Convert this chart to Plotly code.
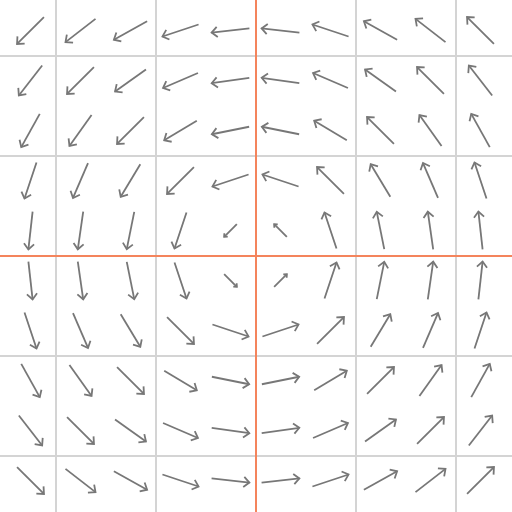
import math
import plotly.graph_objects as go

# grid of arrow centres (data units)
xs = [-2.25, -1.75, -1.25, -0.75, -0.25, 0.25, 0.75, 1.25, 1.75, 2.25]
ys = [2.25, 1.75, 1.25, 0.75, 0.25, -0.25, -0.75, -1.25, -1.75, -2.25]

# horizontal components, one row per y (top to bottom)
u = [
    [-0.269, -0.300, -0.332, -0.361, -0.378, -0.378, -0.361, -0.332, -0.300, -0.269],
    [-0.233, -0.269, -0.309, -0.349, -0.376, -0.376, -0.349, -0.309, -0.269, -0.233],
    [-0.185, -0.221, -0.269, -0.326, -0.373, -0.373, -0.326, -0.269, -0.221, -0.185],
    [-0.120, -0.150, -0.196, -0.269, -0.361, -0.361, -0.269, -0.196, -0.150, -0.120],
    [-0.042, -0.054, -0.075, -0.120, -0.127, -0.127, -0.120, -0.075, -0.054, -0.042],
    [0.042, 0.054, 0.075, 0.120, 0.127, 0.127, 0.120, 0.075, 0.054, 0.042],
    [0.120, 0.150, 0.196, 0.269, 0.361, 0.361, 0.269, 0.196, 0.150, 0.120],
    [0.185, 0.221, 0.269, 0.326, 0.373, 0.373, 0.326, 0.269, 0.221, 0.185],
    [0.233, 0.269, 0.309, 0.349, 0.376, 0.376, 0.349, 0.309, 0.269, 0.233],
    [0.269, 0.300, 0.332, 0.361, 0.378, 0.378, 0.361, 0.332, 0.300, 0.269],
]
# vertical components
v = [
    [-0.269, -0.233, -0.185, -0.120, -0.042, 0.042, 0.120, 0.185, 0.233, 0.269],
    [-0.300, -0.269, -0.221, -0.150, -0.054, 0.054, 0.150, 0.221, 0.269, 0.300],
    [-0.332, -0.309, -0.269, -0.196, -0.075, 0.075, 0.196, 0.269, 0.309, 0.332],
    [-0.361, -0.349, -0.326, -0.269, -0.120, 0.120, 0.269, 0.326, 0.349, 0.361],
    [-0.378, -0.376, -0.373, -0.361, -0.127, 0.127, 0.361, 0.373, 0.376, 0.378],
    [-0.378, -0.376, -0.373, -0.361, -0.127, 0.127, 0.361, 0.373, 0.376, 0.378],
    [-0.361, -0.349, -0.326, -0.269, -0.120, 0.120, 0.269, 0.326, 0.349, 0.361],
    [-0.332, -0.309, -0.269, -0.196, -0.075, 0.075, 0.196, 0.269, 0.309, 0.332],
    [-0.300, -0.269, -0.221, -0.150, -0.054, 0.054, 0.150, 0.221, 0.269, 0.300],
    [-0.269, -0.233, -0.185, -0.120, -0.042, 0.042, 0.120, 0.185, 0.233, 0.269],
]

grid_ticks = [-2, -1, 0, 1, 2]

HEAD_FRAC = 0.2
HEAD_ANGLE = math.radians(42)

px, py = [], []
for i, y in enumerate(ys):
    for j, x in enumerate(xs):
        du, dv = u[i][j], v[i][j]
        L = math.hypot(du, dv)
        tx, ty = x - du / 2, y - dv / 2
        hx, hy = x + du / 2, y + dv / 2
        px += [tx, hx, None]
        py += [ty, hy, None]
        ang = math.atan2(-dv, -du)
        h = HEAD_FRAC * L
        l1 = (hx + h * math.cos(ang + HEAD_ANGLE), hy + h * math.sin(ang + HEAD_ANGLE))
        l2 = (hx + h * math.cos(ang - HEAD_ANGLE), hy + h * math.sin(ang - HEAD_ANGLE))
        px += [l1[0], hx, l2[0], None]
        py += [l1[1], hy, l2[1], None]

fig = go.Figure(
    go.Scatter(
        x=px, y=py, mode="lines",
        line=dict(color="#777777", width=1.8),
        hoverinfo="skip", showlegend=False,
    )
)

axis_common = dict(
    tickvals=grid_ticks, showticklabels=False, ticks="",
    showgrid=True, gridcolor="#d4d4d4", gridwidth=2,
    zeroline=True, zerolinecolor="#f4845c", zerolinewidth=2,
    showline=False,
)
fig.update_xaxes(range=[-2.555, 2.565], **axis_common)
fig.update_yaxes(range=[-2.565, 2.555], **axis_common)
fig.update_layout(
    width=512, height=512,
    margin=dict(l=0, r=0, t=0, b=0),
    plot_bgcolor="white", paper_bgcolor="white",
)
fig.write_html(
    "out.html",
    config={"displayModeBar": False},
    post_script="document.body.style.margin='0';document.body.style.overflow='hidden';",
)
